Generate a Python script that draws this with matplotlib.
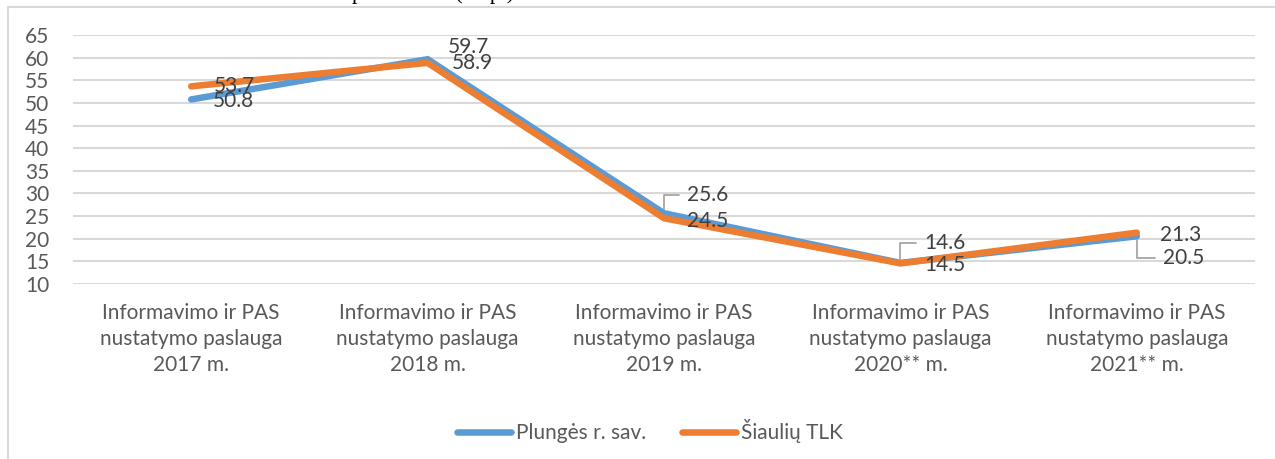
import matplotlib
matplotlib.use("Agg")
import matplotlib.pyplot as plt
from matplotlib.lines import Line2D

# ---- data ----
categories = [
    "Informavimo ir PAS\nnustatymo paslauga\n2017 m.",
    "Informavimo ir PAS\nnustatymo paslauga\n2018 m.",
    "Informavimo ir PAS\nnustatymo paslauga\n2019 m.",
    "Informavimo ir PAS\nnustatymo paslauga\n2020** m.",
    "Informavimo ir PAS\nnustatymo paslauga\n2021** m.",
]
plunges = [50.8, 59.7, 25.6, 14.6, 20.5]
siauliu = [53.7, 58.9, 24.5, 14.5, 21.3]
series_names = ["Plungės r. sav.", "Šiaulių TLK"]
y_ticks = [10, 15, 20, 25, 30, 35, 40, 45, 50, 55, 60, 65]

# label offsets in pixels (dx, dy) and whether a leader line is drawn
plunges_lbl = [(22, -2, False), (20, 12, False), (23, 18, True), (24, 20, True), (26, -22, True)]
siauliu_lbl = [(23, 0, False), (24, 0, False), (23, -3, False), (24, -2, False), (23, -2, False)]

BLUE = "#5B9BD5"
ORANGE = "#ED7D31"
GRID = "#D9D9D9"
TXT = "#595959"
LBL = "#404040"
FONT = "Lato"
FS = 15

W, H = 1275, 459
fig = plt.figure(figsize=(W / 100, H / 100), dpi=100)
plt.rcParams["font.family"] = [FONT, "DejaVu Sans"]

# chart frame (partially cropped)
fig.add_artist(Line2D([8 / W, 8 / W], [0, 1 - 7 / H], transform=fig.transFigure,
                      color=GRID, lw=1.5))
fig.add_artist(Line2D([8 / W, 1], [1 - 7 / H, 1 - 7 / H], transform=fig.transFigure,
                      color=GRID, lw=1.5))
# cropped title above the frame (only descenders visible)
fig.text(352 / W, 1 + 1 / H, "pranešimai (el. p.)", family="Liberation Serif",
         fontsize=16, color="black", ha="left", va="baseline")

left, right = 73 / W, 1255 / W
bottom, top = 1 - 283.7 / H, 1 - 35.3 / H
ax = fig.add_axes([left, bottom, right - left, top - bottom])

x = list(range(len(categories)))
ax.plot(x, plunges, color=BLUE, lw=4.7, solid_capstyle="round",
        solid_joinstyle="miter", label=series_names[0], zorder=3)
ax.plot(x, siauliu, color=ORANGE, lw=4.7, solid_capstyle="round",
        solid_joinstyle="miter", label=series_names[1], zorder=4)

ax.set_xlim(-0.5, len(categories) - 0.5)
ax.set_ylim(y_ticks[0], y_ticks[-1])
ax.set_yticks(y_ticks)
ax.set_yticklabels([str(t) for t in y_ticks])
ax.set_xticks(x)
ax.set_xticklabels(categories, linespacing=1.37)
ax.tick_params(axis="y", length=0, pad=17, labelsize=FS, labelcolor=TXT)
ax.tick_params(axis="x", length=0, pad=14, labelsize=FS, labelcolor=TXT)
for s in ax.spines.values():
    s.set_visible(False)
ax.grid(axis="y", color=GRID, lw=1.5)
ax.set_axisbelow(True)


def add_labels(vals, offs):
    for xi, v, (dx, dy, leader) in zip(x, vals, offs):
        if leader:
            tx = dx - 8
            ax.annotate("", xy=(xi, v), xytext=(tx, dy), textcoords="offset pixels",
                        arrowprops=dict(arrowstyle="-", color="#A6A6A6", lw=1.3,
                                        connectionstyle="angle,angleA=0,angleB=90,rad=0",
                                        shrinkA=0, shrinkB=3), zorder=2)
        ax.annotate(f"{v:.1f}", xy=(xi, v), xytext=(dx, dy), textcoords="offset pixels",
                    ha="left", va="center", fontsize=FS, color=LBL, zorder=5)


add_labels(plunges, plunges_lbl)
add_labels(siauliu, siauliu_lbl)

leg = fig.legend(loc="center", bbox_to_anchor=(650 / W, 1 - 431 / H), ncol=2,
                 frameon=False, fontsize=FS, handlelength=2.6, handletextpad=0.25,
                 columnspacing=1.7, labelcolor=TXT)
for h in leg.get_lines():
    h.set_linewidth(4.7)
    h.set_solid_capstyle("round")

fig.savefig("out.png", dpi=100, facecolor="white")
